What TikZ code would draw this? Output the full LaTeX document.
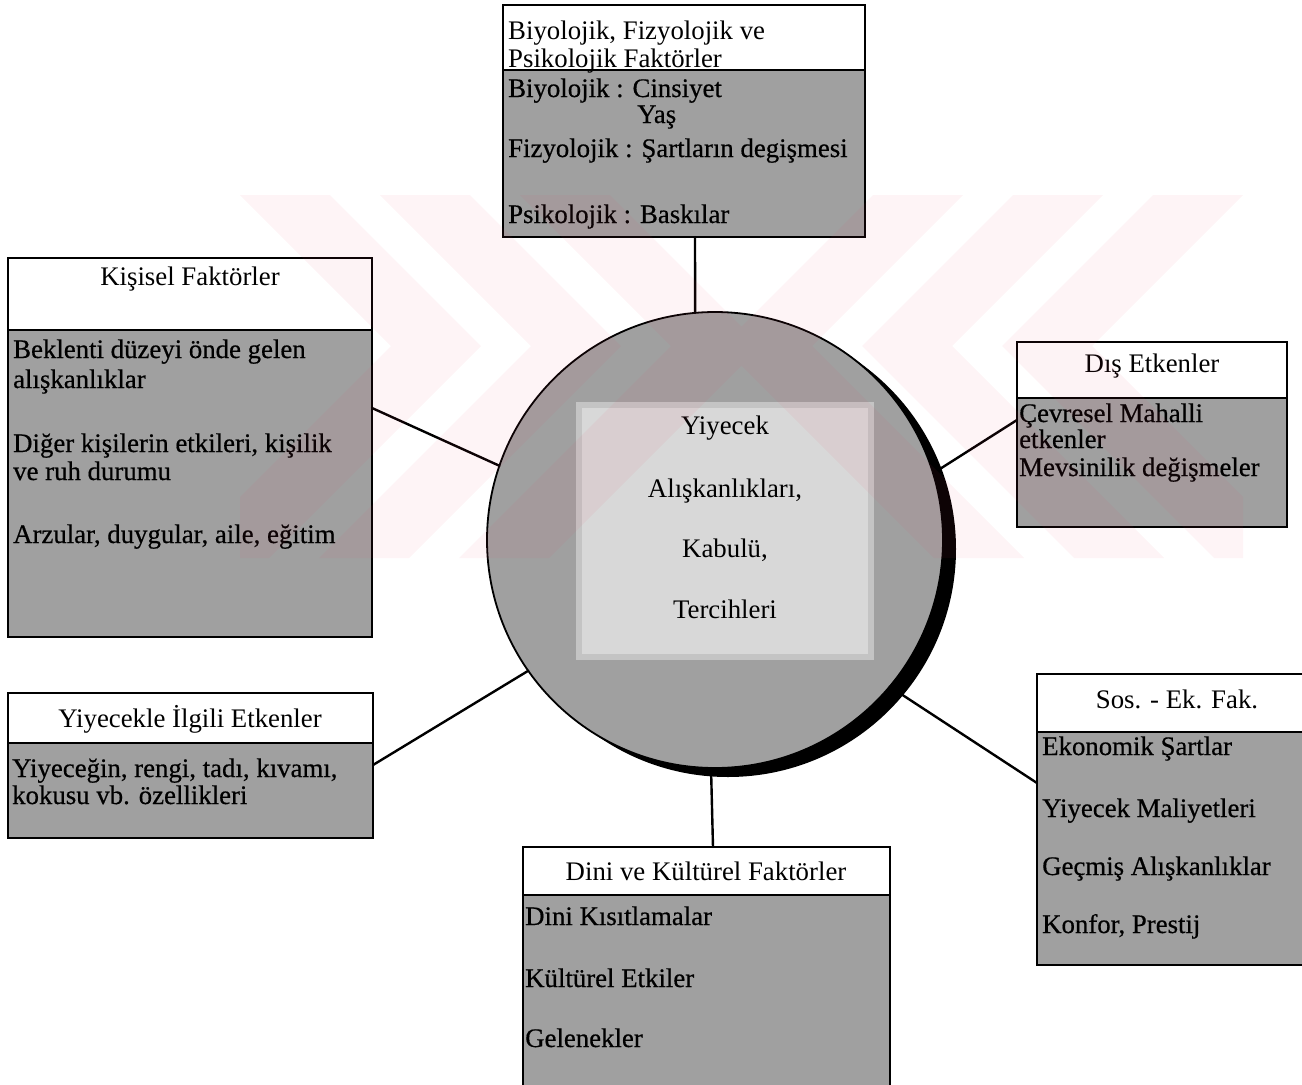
\documentclass[tikz,border=0pt]{standalone}
\usepackage{fontspec}
\setmainfont{Liberation Serif}
\newfontfamily\shadedfont{Liberation Serif}[FakeBold=0.5]
\definecolor{halftone}{RGB}{160,160,160}
\definecolor{innerlight}{RGB}{216,216,216}
\definecolor{innermid}{RGB}{196,196,196}
\definecolor{wmred}{RGB}{235,60,95}
\begin{document}
\begin{tikzpicture}[x=1pt,y=-1pt,
  font=\fontsize{26.8}{28}\selectfont,
  panel/.style={draw=black,line width=2.8pt,anchor=north west,inner sep=0pt,outer sep=0pt},
  headbox/.style={panel,fill=white},
  bodybox/.style={panel,fill=halftone},
  txt/.style={anchor=base west,inner sep=0pt,font=\fontsize{26.8}{28}\shadedfont},
  ctxt/.style={anchor=base,inner sep=0pt},
  link/.style={line width=2.4pt,line cap=round}
]
\useasboundingbox (0,0) rectangle (1302,1085);

% central disc with its drop shadow and lighter inner panel
\fill[black] (728,549) circle (228pt);
\node[circle,draw=black,line width=1.8pt,fill=halftone,minimum size=456pt,inner sep=0pt,outer sep=0pt] (circ) at (715,540) {};
\fill[innermid] (576,402) rectangle (874,660);
\fill[innerlight] (582,408) rectangle (868,654);
\node[ctxt] (c1) at (725,434) {Yiyecek};
\node[ctxt] (c2) at (725,497) {Alışkanlıkları,};
\node[ctxt] (c3) at (725,557) {Kabulü,};
\node[ctxt] (c4) at (725,618) {Tercihleri};

% top panel
\node[bodybox,minimum width=362pt,minimum height=167pt] (bio) at (503,70) {};
\node[headbox,minimum width=362pt,minimum height=65pt] (bioH) at (503,5) {};
\node[anchor=base west,inner sep=0pt] (b1) at (508,39) {Biyolojik, Fizyolojik ve};
\node[anchor=base west,inner sep=0pt] (b2) at (508,67) {Psikolojik Faktörler};
\draw[line width=2.8pt] (bioH.south west) -- (bioH.south east);
\node[txt] (b3) at (508,97) {Biyolojik : Cinsiyet};
\node[txt] (b4) at (637,123) {Yaş};
\node[txt] (b5) at (508,157) {Fizyolojik : Şartların degişmesi};
\node[txt] (b6) at (508,223) {Psikolojik : Baskılar};

% left upper panel
\node[bodybox,minimum width=364pt,minimum height=307pt] (kis) at (8,330) {};
\node[headbox,minimum width=364pt,minimum height=72pt] (kisH) at (8,258) {};
\node[ctxt] (k0) at (190,285) {Kişisel Faktörler};
\node[txt] (k1) at (13,358) {Beklenti düzeyi önde gelen};
\node[txt] (k2) at (13,388) {alışkanlıklar};
\node[txt] (k3) at (13,452) {Diğer kişilerin etkileri, kişilik};
\node[txt] (k4) at (13,480) {ve ruh durumu};
\node[txt] (k5) at (13,543) {Arzular, duygular, aile, eğitim};

% right upper panel
\node[bodybox,minimum width=270pt,minimum height=129pt] (dis) at (1017,398) {};
\node[headbox,minimum width=270pt,minimum height=56pt] (disH) at (1017,342) {};
\node[ctxt] (d0) at (1152,372) {Dış Etkenler};
\node[txt] (d1) at (1019,422) {Çevresel Mahalli};
\node[txt] (d2) at (1019,448) {etkenler};
\node[txt] (d3) at (1019,476) {Mevsinilik değişmeler};

% left lower panel
\node[bodybox,minimum width=365pt,minimum height=95pt] (yiy) at (8,743) {};
\node[headbox,minimum width=365pt,minimum height=50pt] (yiyH) at (8,693) {};
\node[ctxt] (y0) at (190,727) {Yiyecekle İlgili Etkenler};
\node[txt] (y1) at (12,777) {Yiyeceğin, rengi, tadı, kıvamı,};
\node[txt] (y2) at (12,804) {kokusu vb. özellikleri};

% right lower panel
\node[bodybox,minimum width=280pt,minimum height=233pt] (sos) at (1037,732) {};
\node[headbox,minimum width=280pt,minimum height=58pt] (sosH) at (1037,674) {};
\node[ctxt] (s0) at (1177,708) {Sos. - Ek. Fak.};
\node[txt] (s1) at (1042,755) {Ekonomik Şartlar};
\node[txt] (s2) at (1042,817) {Yiyecek Maliyetleri};
\node[txt] (s3) at (1042,875) {Geçmiş Alışkanlıklar};
\node[txt] (s4) at (1042,933) {Konfor, Prestij};

% bottom panel
\node[bodybox,minimum width=367pt,minimum height=220pt] (dini) at (523,895) {};
\node[headbox,minimum width=367pt,minimum height=48pt] (diniH) at (523,847) {};
\node[ctxt] (n0) at (706,880) {Dini ve Kültürel Faktörler};
\node[txt] (n1) at (525,925) {Dini Kısıtlamalar};
\node[txt] (n2) at (525,987) {Kültürel Etkiler};
\node[txt] (n3) at (525,1047) {Gelenekler};

% connectors from the panels to the disc
\draw[link] ([xshift=11pt]bio.south) -- (circ.95);
\draw[link] ([yshift=75.5pt]kis.east) -- (circ.161);
\draw[link] ([yshift=42.5pt]dis.west) -- (circ.17);
\draw[link] ([yshift=25.5pt]yiy.east) -- (circ.215);
\draw[link] ([yshift=65.5pt]sos.west) -- (circ.-40);
\draw[link] ([xshift=6.5pt]diniH.north) -- (circ.269.5);

% faint background emblem
\begin{scope}
\clip (240,195) rectangle (1243,558);
\fill[wmred,fill opacity=0.06]
  (240,195) -- (330,195) -- (481,346) -- (269,558) -- (179,558) -- (391,346) -- cycle
  (380,195) -- (470,195) -- (621,346) -- (409,558) -- (319,558) -- (531,346) -- cycle
  (520,195) -- (610,195) -- (761,346) -- (549,558) -- (459,558) -- (671,346) -- cycle
  (873,195) -- (963,195) -- (812,346) -- (1024,558) -- (934,558) -- (722,346) -- cycle
  (1013,195) -- (1103,195) -- (952,346) -- (1164,558) -- (1074,558) -- (862,346) -- cycle
  (1153,195) -- (1243,195) -- (1092,346) -- (1304,558) -- (1214,558) -- (1002,346) -- cycle;
\end{scope}
\end{tikzpicture}
\end{document}
